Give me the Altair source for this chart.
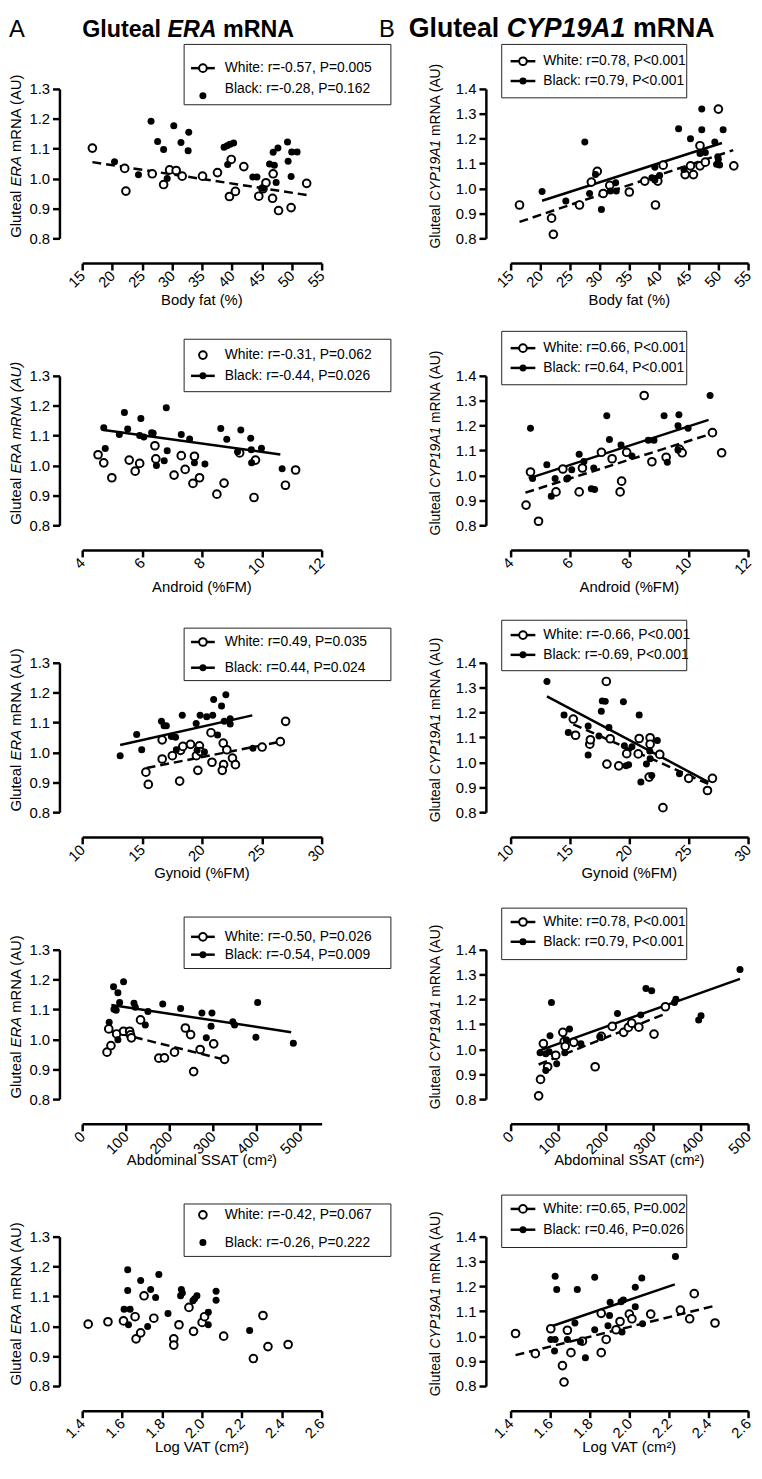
import altair as alt
import pandas as pd

FONT = "Liberation Sans"

# ---------------- data ----------------
# Left column: Gluteal ERA mRNA
L1_wx = [16.7, 22.1, 22.3, 26.7, 28.6, 29.6, 30.7, 31.7, 35.1, 37.6, 39.6, 39.9, 40.6, 42.0, 44.5, 45.2, 45.7, 46.8, 46.9, 47.8, 49.9, 52.5]
L1_wy = [1.102, 1.034, 0.958, 1.016, 0.980, 1.029, 1.027, 1.008, 1.008, 1.020, 0.940, 1.064, 0.957, 1.040, 0.941, 0.966, 0.986, 0.934, 1.016, 0.893, 0.903, 0.984]
L1_bx = [20.4, 24.4, 26.5, 27.6, 28.6, 29.2, 30.3, 31.5, 32.8, 32.7, 38.7, 39.2, 39.7, 40.3, 39.3, 43.5, 44.2, 45.2, 46.3, 47.1, 46.9, 47.7, 47.4, 49.3, 49.4, 50.0, 50.9, 49.9]
L1_by = [1.056, 1.013, 1.192, 1.124, 1.097, 1.000, 1.177, 1.121, 1.155, 1.093, 1.105, 1.110, 1.115, 1.119, 1.047, 1.005, 1.005, 0.968, 1.049, 1.045, 1.088, 1.102, 0.987, 1.122, 1.058, 1.089, 1.089, 1.007]
L1_wlx = [16.7, 52.5]
L1_wly = [1.055, 0.945]

L2_wx = [4.53, 4.72, 4.99, 5.57, 5.77, 5.92, 6.43, 6.46, 7.07, 7.31, 7.44, 7.70, 7.75, 7.92, 8.50, 8.74, 9.26, 9.74, 9.79, 10.79, 11.13]
L2_wy = [1.036, 1.009, 0.959, 1.018, 0.981, 1.007, 1.066, 1.022, 0.968, 1.033, 0.987, 0.940, 1.031, 0.959, 0.904, 0.941, 1.042, 0.893, 1.018, 0.934, 0.985]
L2_bx = [4.72, 4.77, 5.24, 5.41, 5.52, 5.96, 5.92, 6.06, 6.32, 6.37, 6.48, 6.74, 6.81, 6.84, 7.31, 7.59, 7.75, 8.10, 8.63, 8.83, 9.19, 9.30, 9.63, 9.65, 9.66, 9.99, 10.68]
L2_by = [1.126, 1.057, 1.104, 1.177, 1.122, 1.157, 1.100, 1.095, 1.110, 1.108, 1.000, 1.016, 1.193, 1.049, 1.104, 1.089, 1.009, 1.005, 1.124, 1.088, 1.046, 1.119, 1.091, 1.053, 1.009, 1.058, 0.989]
L2_blx = [4.72, 10.62]
L2_bly = [1.119, 1.037]

L3_wx = [15.32, 15.52, 16.68, 16.68, 17.53, 18.14, 18.22, 18.41, 19.05, 19.54, 19.66, 19.79, 19.88, 20.76, 20.84, 21.78, 21.81, 21.70, 22.08, 22.55, 22.80, 25.03, 26.55, 26.99]
L3_wy = [0.934, 0.893, 0.978, 1.042, 0.989, 0.904, 1.007, 1.020, 1.027, 0.989, 0.940, 1.022, 1.003, 1.066, 0.967, 1.031, 0.959, 0.940, 1.009, 0.981, 0.959, 1.018, 1.036, 1.104]
L3_bx = [13.17, 14.55, 14.97, 16.62, 16.84, 17.03, 17.45, 17.80, 18.36, 17.86, 19.52, 19.85, 19.60, 20.21, 20.40, 20.90, 20.98, 21.31, 21.64, 21.86, 22.00, 22.36, 22.36, 24.26]
L3_by = [0.989, 1.060, 1.009, 1.104, 1.089, 1.089, 1.053, 1.051, 1.124, 1.009, 1.097, 1.124, 1.007, 1.001, 1.119, 1.124, 1.177, 1.058, 1.155, 1.104, 1.193, 1.113, 1.095, 1.014]
L3_blx = [13.17, 24.21]
L3_bly = [1.025, 1.124]
L3_wlx = [15.38, 26.83]
L3_wly = [0.948, 1.038]

L4_wx = [57, 61, 66, 79, 95, 109, 111, 113, 134, 176, 189, 212, 237, 249, 256, 271, 302, 327]
L4_wy = [0.957, 1.035, 0.979, 1.018, 1.027, 1.027, 1.015, 1.005, 1.065, 0.937, 0.938, 0.957, 1.038, 1.016, 0.892, 0.966, 0.985, 0.933]
L4_bx = [62, 72, 73, 78, 82, 82, 86, 95, 119, 122, 145, 151, 185, 226, 275, 285, 296, 298, 346, 350, 399, 403, 485]
L4_by = [1.057, 1.176, 1.101, 1.097, 0.999, 1.156, 1.123, 1.193, 1.121, 1.107, 1.048, 1.093, 1.118, 1.103, 1.088, 1.005, 1.044, 1.088, 1.059, 1.048, 1.007, 1.123, 0.987]
L4_blx = [67, 480]
L4_bly = [1.115, 1.024]
L4_wlx = [57, 327]
L4_wly = [1.030, 0.932]

L5_wx = [1.430, 1.529, 1.607, 1.665, 1.670, 1.693, 1.710, 1.759, 1.859, 1.859, 1.885, 1.935, 1.958, 2.001, 2.013, 2.109, 2.258, 2.306, 2.331, 2.432]
L5_wy = [1.007, 1.015, 1.018, 1.032, 0.958, 0.978, 1.102, 1.027, 0.958, 0.937, 1.005, 1.063, 0.983, 1.013, 1.032, 0.967, 0.892, 1.036, 0.932, 0.939]
L5_bx = [1.610, 1.628, 1.628, 1.632, 1.640, 1.693, 1.728, 1.743, 1.768, 1.784, 1.830, 1.897, 1.902, 1.893, 1.955, 1.963, 1.975, 2.032, 2.032, 2.071, 2.071, 2.239]
L5_by = [1.057, 1.189, 1.120, 1.005, 1.057, 1.153, 0.999, 1.123, 1.096, 1.173, 1.043, 1.123, 1.111, 1.102, 1.085, 1.092, 1.102, 1.047, 1.005, 1.117, 1.087, 0.986]

# Right column: Gluteal CYP19A1 mRNA
R1_wx = [16.5, 21.9, 22.2, 26.6, 28.6, 29.6, 30.6, 31.7, 35.0, 37.6, 39.4, 39.8, 40.7, 44.4, 45.3, 45.8, 46.9, 46.9, 47.8, 50.0, 52.6]
R1_wy = [0.934, 0.881, 0.816, 0.934, 1.026, 1.069, 0.980, 1.013, 0.986, 1.030, 0.934, 1.030, 1.094, 1.056, 1.091, 1.056, 1.172, 1.091, 1.106, 1.319, 1.091]
R1_bx = [20.3, 24.3, 27.5, 28.3, 29.3, 30.3, 31.8, 32.7, 32.8, 38.8, 39.3, 39.3, 40.1, 43.3, 44.2, 45.3, 47.2, 47.2, 46.9, 47.8, 49.4, 49.7, 49.9, 50.0, 50.8, 50.2]
R1_by = [0.988, 0.950, 1.187, 0.980, 1.056, 0.916, 0.990, 1.023, 0.990, 1.043, 1.085, 1.034, 1.052, 1.240, 1.076, 1.200, 1.319, 1.236, 1.141, 1.145, 1.187, 1.098, 1.128, 1.118, 1.236, 1.095]
R1_blx = [20.3, 50.6]
R1_bly = [0.951, 1.183]
R1_wlx = [16.5, 52.5]
R1_wly = [0.866, 1.154]

R2_wx = [4.52, 4.67, 4.94, 5.53, 5.76, 6.31, 6.42, 7.06, 7.42, 7.69, 7.74, 7.91, 8.50, 8.76, 9.24, 9.69, 9.78, 10.80, 11.11]
R2_wy = [0.881, 1.014, 0.816, 0.934, 1.026, 0.934, 1.030, 1.093, 1.067, 0.934, 0.977, 1.093, 1.321, 1.055, 1.073, 1.105, 1.091, 1.172, 1.091]
R2_bx = [4.67, 4.74, 5.22, 5.37, 5.50, 5.89, 5.93, 6.06, 6.31, 6.47, 6.72, 6.80, 6.83, 7.24, 7.33, 7.72, 8.09, 8.64, 8.83, 9.17, 9.28, 9.67, 9.64, 9.64, 9.98, 10.72]
R2_by = [1.190, 0.988, 1.043, 0.916, 0.988, 0.986, 0.990, 1.023, 1.085, 1.056, 0.947, 1.030, 0.944, 1.240, 1.144, 1.122, 1.078, 1.141, 1.141, 1.240, 1.053, 1.244, 1.200, 1.102, 1.190, 1.321]
R2_blx = [4.61, 10.67]
R2_bly = [0.988, 1.223]
R2_wlx = [4.50, 10.78]
R2_wly = [0.931, 1.168]

R3_wx = [15.28, 15.47, 16.67, 16.72, 18.06, 18.11, 18.39, 19.11, 19.78, 20.75, 20.83, 21.75, 21.75, 21.67, 22.56, 22.83, 25.0, 26.58, 27.0]
R3_wy = [1.174, 1.109, 1.073, 1.091, 1.325, 0.993, 1.095, 0.986, 1.035, 1.034, 1.096, 1.099, 1.073, 0.941, 1.032, 0.818, 0.936, 0.887, 0.936]
R3_bx = [13.06, 14.5, 14.86, 16.53, 16.53, 17.44, 17.64, 17.72, 17.97, 18.28, 19.5, 19.58, 19.72, 19.94, 20.22, 20.83, 20.97, 21.44, 21.72, 21.75, 21.89, 22.36, 24.22]
R3_by = [1.325, 1.190, 1.120, 1.146, 1.030, 1.106, 1.205, 1.247, 1.245, 1.140, 1.243, 1.067, 0.986, 0.990, 1.063, 1.190, 0.921, 0.993, 1.046, 1.015, 0.947, 1.088, 0.954]
R3_blx = [13.06, 26.67]
R3_bly = [1.265, 0.921]
R3_wlx = [15.28, 27.0]
R3_wly = [1.153, 0.906]

R4_wx = [59, 63, 69, 78, 95, 110, 113, 115, 133, 178, 191, 214, 238, 248, 255, 270, 302, 326]
R4_wy = [0.813, 0.879, 1.023, 0.930, 0.976, 1.068, 1.032, 1.012, 1.028, 0.930, 1.052, 1.092, 1.068, 1.088, 1.105, 1.089, 1.061, 1.171]
R4_bx = [62, 74, 81, 74, 83, 86, 97, 114, 117, 124, 148, 188, 225, 274, 285, 297, 345, 348, 396, 401, 483]
R4_by = [0.986, 0.982, 0.990, 0.915, 1.054, 1.188, 0.942, 0.986, 1.038, 1.082, 1.022, 1.049, 1.144, 1.138, 1.244, 1.235, 1.188, 1.201, 1.118, 1.135, 1.320]
R4_blx = [60, 483]
R4_bly = [0.995, 1.283]
R4_wlx = [59, 326]
R4_wly = [0.939, 1.143]

R5_wx = [1.425, 1.525, 1.603, 1.662, 1.670, 1.687, 1.705, 1.763, 1.858, 1.858, 1.883, 1.933, 1.953, 2.000, 2.013, 2.108, 2.258, 2.305, 2.328, 2.433]
R5_wy = [1.011, 0.930, 1.030, 0.882, 0.816, 1.024, 0.934, 0.980, 0.934, 1.092, 0.987, 1.026, 1.059, 1.089, 1.070, 1.089, 1.105, 1.070, 1.171, 1.053]
R5_bx = [1.603, 1.625, 1.625, 1.633, 1.622, 1.687, 1.725, 1.737, 1.753, 1.778, 1.825, 1.825, 1.892, 1.900, 1.903, 1.958, 1.963, 1.970, 2.030, 2.030, 2.063, 2.067, 2.233]
R5_by = [0.987, 0.987, 1.241, 1.188, 0.941, 0.987, 1.053, 1.188, 0.978, 0.914, 1.237, 1.026, 1.042, 1.083, 1.136, 1.138, 1.017, 1.145, 1.197, 1.118, 1.234, 1.050, 1.320]
R5_blx = [1.592, 2.230]
R5_bly = [1.036, 1.208]
R5_wlx = [1.425, 2.425]
R5_wly = [0.924, 1.121]

# axes
X_BODYFAT = [15, 20, 25, 30, 35, 40, 45, 50, 55]
X_ANDROID = [4, 6, 8, 10, 12]
X_GYNOID = [10, 15, 20, 25, 30]
X_SSAT = [0, 100, 200, 300, 400, 500]
X_VAT = [1.4, 1.6, 1.8, 2.0, 2.2, 2.4, 2.6]
Y_ERA = [0.8, 0.9, 1.0, 1.1, 1.2, 1.3]
Y_CYP = [0.8, 0.9, 1.0, 1.1, 1.2, 1.3, 1.4]

# legend texts
LEG = {
    "L1": ["White: r=-0.57, P=0.005", "Black: r=-0.28, P=0.162"],
    "L2": ["White: r=-0.31, P=0.062", "Black: r=-0.44, P=0.026"],
    "L3": ["White: r=0.49, P=0.035", "Black: r=0.44, P=0.024"],
    "L4": ["White: r=-0.50, P=0.026", "Black: r=-0.54, P=0.009"],
    "L5": ["White: r=-0.42, P=0.067", "Black: r=-0.26, P=0.222"],
    "R1": ["White: r=0.78, P<0.001", "Black: r=0.79, P<0.001"],
    "R2": ["White: r=0.66, P<0.001", "Black: r=0.64, P<0.001"],
    "R3": ["White: r=-0.66, P<0.001", "Black: r=-0.69, P<0.001"],
    "R4": ["White: r=0.78, P<0.001", "Black: r=0.79, P<0.001"],
    "R5": ["White: r=0.65, P=0.002", "Black: r=0.46, P=0.026"],
}

# ---------------- helpers ----------------
REG = {" ": 278, "(": 333, ")": 333, "%": 889, ".": 278, ",": 278, ":": 278, "-": 333,
       "A": 667, "C": 722, "E": 667, "G": 778, "N": 722, "P": 667, "R": 722, "U": 722, "Y": 667,
       "a": 556, "e": 556, "l": 222, "m": 833, "t": 278, "u": 556, "1": 556, "9": 556}
BOLD = {" ": 278, "G": 778, "l": 278, "u": 611, "t": 333, "e": 556, "a": 556, "E": 667, "R": 722,
        "A": 722, "m": 889, "N": 722, "C": 722, "Y": 667, "P": 667, "1": 556, "9": 556}


def tw(s, size, table):
    return sum(table.get(c, 556) for c in s) * size / 1000.0


def one(t):
    return pd.DataFrame({"t": [t]})


def txt(t, x, y, size=14, align="left", baseline="middle", angle=None, style="normal", weight="normal"):
    kw = dict(align=align, baseline=baseline, font=FONT, fontSize=size, fontStyle=style,
              fontWeight=weight, color="black")
    if angle is not None:
        kw["angle"] = angle
    return alt.Chart(one(t)).mark_text(**kw).encode(x=alt.value(x), y=alt.value(y), text="t:N")


def rule(x1, x2, y):
    return alt.Chart(one("")).mark_rule(color="black", strokeWidth=2.5).encode(
        x=alt.value(x1), x2=alt.value(x2), y=alt.value(y))


def open_pt(x, y):
    return alt.Chart(one("")).mark_point(shape="circle", filled=True, fill="white", stroke="black",
                                         strokeWidth=2, size=60, opacity=1).encode(
        x=alt.value(x), y=alt.value(y))


def dot(x, y):
    return alt.Chart(one("")).mark_circle(color="black", size=50, opacity=1).encode(
        x=alt.value(x), y=alt.value(y))


W_L, W_R, H = 242, 240, 151


def panel(side, key, wx, wy, bx, by, lines, xdom, xticks, xfmt, xtitle, ypieces,
          leg_geo, wline, bline, extra=None):
    W = W_L if side == "L" else W_R
    ydom = [0.8, 1.3] if side == "L" else [0.8, 1.4]
    yt = Y_ERA if side == "L" else Y_CYP
    yoff = 23 if side == "L" else 25
    X = alt.X("x:Q", scale=alt.Scale(domain=xdom, nice=False, zero=False),
              axis=alt.Axis(values=xticks, format=xfmt, offset=25, labelAngle=315,
                            labelAlign="right", labelBaseline="middle", labelPadding=3,
                            title=None))
    Y = alt.Y("y:Q", scale=alt.Scale(domain=ydom, nice=False, zero=False),
              axis=alt.Axis(values=yt, format=".1f", offset=yoff, labelPadding=3, title=None))
    layers = []
    for lx, ly, dashed in lines:
        mk = dict(color="black", strokeWidth=2.5)
        if dashed:
            mk["strokeDash"] = [9, 5]
        layers.append(alt.Chart(pd.DataFrame({"x": lx, "y": ly})).mark_line(**mk).encode(x=X, y=Y))
    layers.append(alt.Chart(pd.DataFrame({"x": wx, "y": wy})).mark_point(
        shape="circle", filled=True, fill="white", stroke="black", strokeWidth=2, size=60,
        opacity=1).encode(x=X, y=Y))
    layers.append(alt.Chart(pd.DataFrame({"x": bx, "y": by})).mark_circle(
        color="black", size=50, opacity=1).encode(x=X, y=Y))

    # x title
    layers.append(txt(xtitle, W / 2, H + 62, size=15, align="center"))
    # y title (rotated pieces, mixed italics)
    fs = 15 if side == "L" else 14
    total = sum(tw(p, fs, REG) for p, _ in ypieces) + tw(" ", fs, REG) * (len(ypieces) - 1)
    ycen = H / 2 - 8
    pos = ycen + total / 2
    xt = -67 if side == "L" else -75
    for p, it in ypieces:
        layers.append(txt(p, xt, pos, size=fs, angle=270, style="italic" if it else "normal"))
        pos -= tw(p, fs, REG) + tw(" ", fs, REG)

    # legend
    if side == "L":
        bx1, bx2, sc, l1, l2, tx = 103, 312, 122, 110, 134, 144
    else:
        bx1, bx2, sc, l1, l2, tx = -9, 178, 12.5, 0, 25, 33
    y1, y2, yw, yb, ybs = leg_geo
    layers.append(alt.Chart(one("")).mark_rect(fill="white", stroke="#222", strokeWidth=1).encode(
        x=alt.value(bx1), x2=alt.value(bx2), y=alt.value(y1), y2=alt.value(y2)))
    layers.append(txt(LEG[key][0], tx, yw))
    layers.append(txt(LEG[key][1], tx, yb))
    if wline:
        layers.append(rule(l1, l2, yw))
    layers.append(open_pt(sc, yw))
    if bline:
        layers.append(rule(l1, l2, ybs))
    layers.append(dot(sc, ybs))

    if extra:
        layers.extend(extra)
    return alt.layer(*layers).properties(width=W, height=H)


def heading(letter, lx, start, pieces, size):
    out = [txt(letter, lx, -52, size=24, align="left", baseline="alphabetic")]
    x = start
    sp = tw(" ", size, BOLD)
    for p, it in pieces:
        out.append(txt(p, x, -52, size=size, align="left", baseline="alphabetic",
                       style="italic" if it else "normal", weight="bold"))
        x += tw(p, size, BOLD) + sp
    return out


YL = [("Gluteal", False), ("ERA", True), ("mRNA (AU)", False)]
YL2 = [("Gluteal", False), ("ERA mRNA (AU)", True)]
YR = [("Gluteal", False), ("CYP19A1", True), ("mRNA (AU)", False)]

hA = heading("A", -74, 0, [("Gluteal", False), ("ERA", True), ("mRNA", False)], 23.5)
hB = heading("B", -133, -103, [("Gluteal", False), ("CYP19A1", True), ("mRNA", False)], 27)

pL1 = panel("L", "L1", L1_wx, L1_wy, L1_bx, L1_by, [(L1_wlx, L1_wly, True)], [15, 55], X_BODYFAT, "d",
            "Body fat (%)", YL, (-45, 16, -21, 0, 7), True, False, hA)
pR1 = panel("R", "R1", R1_wx, R1_wy, R1_bx, R1_by, [(R1_wlx, R1_wly, True), (R1_blx, R1_bly, False)],
            [15, 55], X_BODYFAT, "d", "Body fat (%)", YR, (-45, 9, -28, -8, -8), True, True, hB)
pL2 = panel("L", "L2", L2_wx, L2_wy, L2_bx, L2_by, [(L2_blx, L2_bly, False)], [4, 12], X_ANDROID, "d",
            "Android (%FM)", YL2, (-37, 16, -21, 0, 0), False, True)
pR2 = panel("R", "R2", R2_wx, R2_wy, R2_bx, R2_by, [(R2_wlx, R2_wly, True), (R2_blx, R2_bly, False)],
            [4, 12], X_ANDROID, "d", "Android (%FM)", YR, (-45, 9, -28, -8, -8), True, True)
pL3 = panel("L", "L3", L3_wx, L3_wy, L3_bx, L3_by, [(L3_wlx, L3_wly, True), (L3_blx, L3_bly, False)],
            [10, 30], X_GYNOID, "d", "Gynoid (%FM)", YL, (-35, 18, -21, 5, 5), True, True)
pR3 = panel("R", "R3", R3_wx, R3_wy, R3_bx, R3_by, [(R3_wlx, R3_wly, True), (R3_blx, R3_bly, False)],
            [10, 30], X_GYNOID, "d", "Gynoid (%FM)", YR, (-43, 8, -28, -8, -8), True, True)
pL4 = panel("L", "L4", L4_wx, L4_wy, L4_bx, L4_by, [(L4_wlx, L4_wly, True), (L4_blx, L4_bly, False)],
            [0, 550], X_SSAT, "d", "Abdominal SSAT (cm\u00b2)", YL, (-33, 19, -13, 5, 5), True, True)
pR4 = panel("R", "R4", R4_wx, R4_wy, R4_bx, R4_by, [(R4_wlx, R4_wly, True), (R4_blx, R4_bly, False)],
            [0, 500], X_SSAT, "d", "Abdominal SSAT (cm\u00b2)", YR, (-42, 10, -28, -8, -8), True, True)
pL5 = panel("L", "L5", L5_wx, L5_wy, L5_bx, L5_by, [], [1.4, 2.6], X_VAT, ".1f",
            "Log VAT (cm\u00b2)", YL, (-33, 20, -22, 6, 6), False, False)
pR5 = panel("R", "R5", R5_wx, R5_wy, R5_bx, R5_by, [(R5_wlx, R5_wly, True), (R5_blx, R5_bly, False)],
            [1.4, 2.6], X_VAT, ".1f", "Log VAT (cm\u00b2)", YR, (-42, 11, -28, -7, -7), True, True)

chart = alt.concat(pL1, pR1, pL2, pR2, pL3, pR3, pL4, pR4, pL5, pR5, columns=2,
                   spacing={"row": 139, "column": 191}, bounds="flush").properties(
    padding={"left": 0, "top": 0, "right": 0, "bottom": 0}
).configure(font=FONT).configure_view(stroke=None).configure_axis(
    domainColor="black", domainWidth=2.5, tickColor="black", tickWidth=2.5, tickSize=7,
    labelColor="black", labelFont=FONT, labelFontSize=15, grid=False
)

chart.save("out.html", embed_options={"renderer": "svg", "actions": False})
